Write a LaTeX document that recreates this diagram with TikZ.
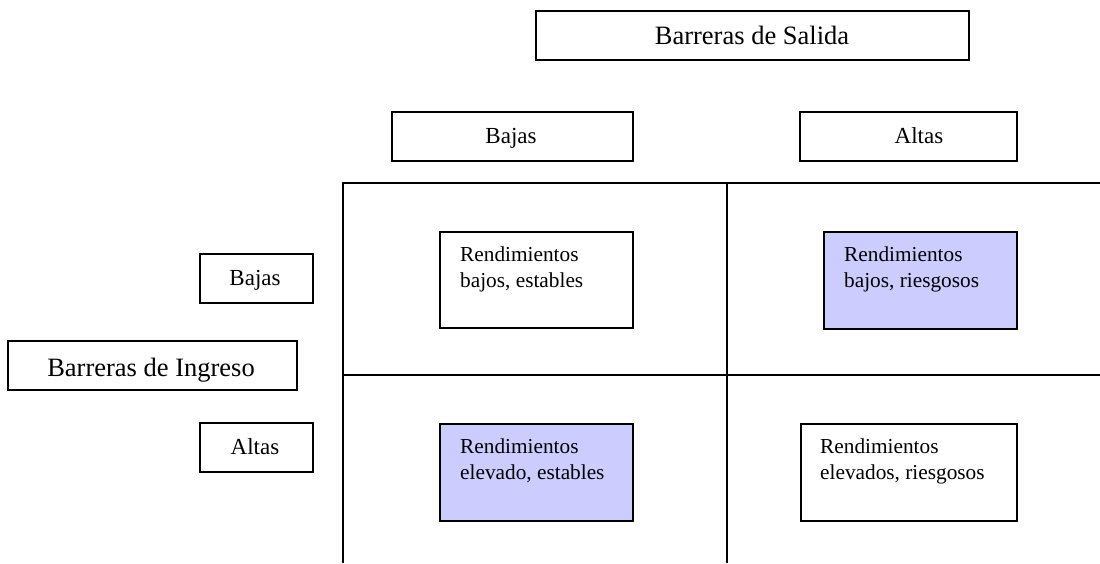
\documentclass[tikz,border=0pt]{standalone}
\usepackage{fontspec}
\setmainfont{Liberation Serif}
\begin{document}
\begin{tikzpicture}[x=1pt,y=-1pt,
  boxstyle/.style={draw=black,line width=1.8pt,inner sep=0pt,anchor=north west},
  shaded/.style={boxstyle,fill=lavender},
  gridline/.style={draw=black,line width=1.8pt},
  bigtxt/.style={font=\fontsize{26.5pt}{30pt}\selectfont,anchor=base,inner sep=0pt},
  midtxt/.style={font=\fontsize{23pt}{28pt}\selectfont,anchor=base,inner sep=0pt},
  celltxt/.style={font=\fontsize{21.3pt}{25.5pt}\selectfont,anchor=base west,inner sep=0pt,align=left}]
\definecolor{lavender}{HTML}{CCCCFF}
\useasboundingbox (0,0) rectangle (1100,563);
\fill[white] (0,0) rectangle (1100,563);
% grid
\coordinate (gTL) at (343,183);
\coordinate (gTR) at (1100,183);
\coordinate (gML) at (343,375);
\coordinate (gMR) at (1100,375);
\coordinate (gBL) at (343,563);
\coordinate (gMT) at (727,183);
\coordinate (gMB) at (727,563);
\draw[gridline] (gTR) -- (gTL) -- (gBL);
\draw[gridline] (gML) -- (gMR);
\draw[gridline] (gMT) -- (gMB);
% header boxes
\node[boxstyle,minimum width=433,minimum height=49] (salida) at (535,10) {};
\node[bigtxt] (salidaT) at (752,44) {Barreras de Salida};
\node[boxstyle,minimum width=241,minimum height=49] (bajasTop) at (391,111) {};
\node[midtxt] (bajasTopT) at (511,143) {Bajas};
\node[boxstyle,minimum width=217,minimum height=49] (altasTop) at (799,111) {};
\node[midtxt] (altasTopT) at (919,143) {Altas};
% left boxes
\node[boxstyle,minimum width=113,minimum height=49] (bajasLeft) at (199,253) {};
\node[midtxt] (bajasLeftT) at (255,285) {Bajas};
\node[boxstyle,minimum width=289,minimum height=49] (ingreso) at (7,340) {};
\node[bigtxt] (ingresoT) at (151,376) {Barreras de Ingreso};
\node[boxstyle,minimum width=113,minimum height=49] (altasLeft) at (199,422) {};
\node[midtxt] (altasLeftT) at (255,454) {Altas};
% cells
\node[boxstyle,minimum width=193,minimum height=96] (c11) at (439,231) {};
\node[celltxt] (c11T) at (460,287) {Rendimientos\\bajos, estables};
\node[shaded,minimum width=193,minimum height=97] (c12) at (823,231) {};
\node[celltxt] (c12T) at (844,287) {Rendimientos\\bajos, riesgosos};
\node[shaded,minimum width=193,minimum height=97] (c21) at (439,423) {};
\node[celltxt] (c21T) at (460,479) {Rendimientos\\elevado, estables};
\node[boxstyle,minimum width=216,minimum height=97] (c22) at (800,423) {};
\node[celltxt] (c22T) at (820,479) {Rendimientos\\elevados, riesgosos};
\end{tikzpicture}
\end{document}
